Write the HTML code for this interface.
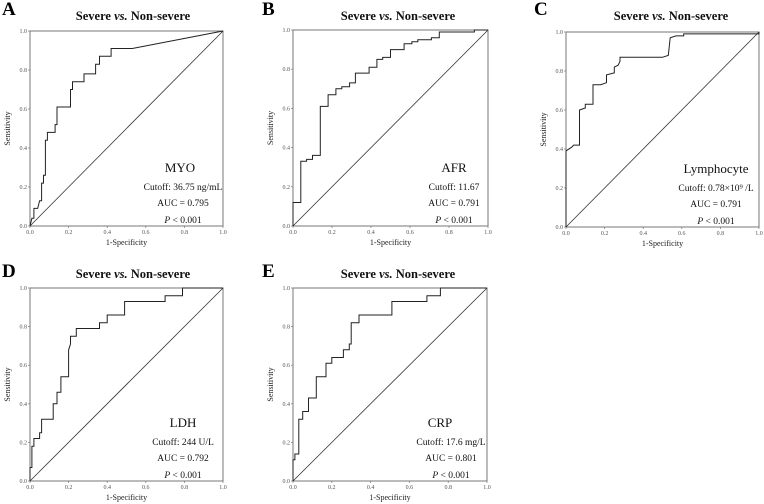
<!DOCTYPE html>
<html><head><meta charset="utf-8"><style>
body{margin:0;background:#fff;}
svg{display:block;font-family:"Liberation Serif",serif;}
</style></head><body>
<svg id="chart" width="764" height="504"></svg>
<script>
const panelLetters=["A","B","C","D","E"];
const markers=["MYO","AFR","Lymphocyte","LDH","CRP"];
const cutoffs=["Cutoff: 36.75 ng/mL","Cutoff: 11.67","Cutoff: 0.78×10⁹ /L","Cutoff: 244 U/L","Cutoff: 17.6 mg/L"];
const aucs=["AUC = 0.795","AUC = 0.791","AUC = 0.791","AUC = 0.792","AUC = 0.801"];
const tickLabels=["0.0","0.2","0.4","0.6","0.8","1.0"];
const tickValues=[0,0.2,0.4,0.6,0.8,1.0];
const rocA_x=[0,0.01,0.02,0.02,0.04,0.05,0.06,0.06,0.07,0.07,0.08,0.08,0.09,0.09,0.13,0.13,0.14,0.14,0.21,0.21,0.22,0.22,0.28,0.28,0.34,0.34,0.36,0.36,0.42,0.42,0.53,1];
const rocA_y=[0,0.04,0.04,0.09,0.09,0.13,0.13,0.22,0.22,0.26,0.26,0.44,0.44,0.48,0.48,0.52,0.52,0.61,0.61,0.70,0.70,0.74,0.74,0.78,0.78,0.83,0.83,0.87,0.87,0.91,0.91,1];
const rocB_x=[0,0,0.04,0.04,0.07,0.07,0.1,0.1,0.14,0.14,0.18,0.18,0.22,0.22,0.25,0.25,0.29,0.29,0.32,0.32,0.39,0.39,0.43,0.43,0.46,0.46,0.5,0.5,0.57,0.57,0.61,0.61,0.64,0.64,0.71,0.71,0.75,0.75,0.93,0.93,1];
const rocB_y=[0,0.12,0.12,0.33,0.33,0.34,0.34,0.36,0.36,0.61,0.61,0.67,0.67,0.70,0.70,0.71,0.71,0.73,0.73,0.78,0.78,0.81,0.81,0.85,0.85,0.86,0.86,0.90,0.90,0.93,0.93,0.94,0.94,0.95,0.95,0.96,0.96,0.99,0.99,1,1];
const rocC_x=[0,0,0.03,0.04,0.07,0.07,0.1,0.1,0.14,0.14,0.18,0.21,0.21,0.25,0.25,0.27,0.28,0.28,0.5,0.53,0.54,0.57,0.61,0.61,1,1];
const rocC_y=[0,0.39,0.41,0.42,0.42,0.60,0.61,0.63,0.63,0.73,0.73,0.74,0.78,0.79,0.82,0.83,0.85,0.87,0.87,0.88,0.97,0.98,0.98,0.99,0.99,1];
const rocD_x=[0,0,0.01,0.01,0.02,0.02,0.05,0.05,0.06,0.06,0.12,0.12,0.14,0.14,0.16,0.16,0.2,0.2,0.21,0.21,0.24,0.24,0.36,0.36,0.4,0.4,0.49,0.49,0.7,0.7,0.79,0.79,1];
const rocD_y=[0,0.07,0.07,0.18,0.18,0.22,0.22,0.25,0.25,0.32,0.32,0.40,0.40,0.46,0.46,0.54,0.54,0.68,0.71,0.75,0.75,0.79,0.79,0.82,0.82,0.86,0.86,0.93,0.93,0.96,0.96,1,1];
const rocE_x=[0,0,0.01,0.01,0.03,0.03,0.05,0.05,0.08,0.08,0.12,0.12,0.17,0.17,0.2,0.2,0.26,0.26,0.29,0.29,0.3,0.3,0.34,0.34,0.51,0.51,0.69,0.69,0.76,0.76,1];
const rocE_y=[0,0.11,0.11,0.14,0.14,0.32,0.32,0.36,0.36,0.43,0.43,0.54,0.54,0.61,0.61,0.64,0.64,0.68,0.68,0.71,0.71,0.82,0.82,0.86,0.86,0.93,0.93,0.96,0.96,1,1];
const seriesX=[rocA_x,rocB_x,rocC_x,rocD_x,rocE_x];
const seriesY=[rocA_y,rocB_y,rocC_y,rocD_y,rocE_y];

// layout
const boxes=[
 {l:30,r:223,t:31,b:226,lx:2,ly:15,tx:133,ty:20,mx:180,cx:183},
 {l:293,r:488,t:30,b:226,lx:262,ly:15,tx:398,ty:20,mx:454,cx:454},
 {l:566,r:759,t:32,b:227,lx:534,ly:15,tx:671,ty:20,mx:716,cx:716},
 {l:30,r:223,t:288,b:481,lx:2,ly:277,tx:133,ty:278,mx:183,cx:183},
 {l:293,r:487,t:288,b:481,lx:262,ly:277,tx:398,ty:278,mx:440,cx:451}
];
const NS="http://www.w3.org/2000/svg";
const svg=document.getElementById('chart');
function mk(tag,attrs,parent,text){const e=document.createElementNS(NS,tag);for(const k in attrs)e.setAttribute(k,attrs[k]);if(text!==undefined)e.textContent=text;(parent||svg).appendChild(e);return e;}

boxes.forEach((B,i)=>{
 const g=mk('g',{});
 
 
 const sx=v=>B.l+v*(B.r-B.l), sy=v=>B.b-v*(B.b-B.t);
 const L=mk('text',{x:B.lx,y:B.ly,'font-size':19,'font-weight':'bold',fill:'#000'},g,panelLetters[i]);
 
 
 const T=mk('text',{x:B.tx,y:B.ty,'font-size':12.5,'font-weight':'bold','text-anchor':'middle',fill:'#111'},g);
 
 
 mk('tspan',{},T,'Severe ');mk('tspan',{'font-style':'italic'},T,'vs.');mk('tspan',{},T,' Non-severe');
 const F=mk('rect',{x:B.l,y:B.t,width:B.r-B.l,height:B.b-B.t,fill:'none',stroke:'#777','stroke-width':1},g);
 
 
 tickValues.forEach((v,k)=>{
  mk('line',{x1:sx(v),x2:sx(v),y1:B.b,y2:B.b+2,stroke:'#777','stroke-width':0.7},g);
  mk('line',{x1:B.l-2,x2:B.l,y1:sy(v),y2:sy(v),stroke:'#777','stroke-width':0.7},g);
  const xt=mk('text',{x:sx(v),y:B.b+8,'font-size':6,'text-anchor':'middle',fill:'#555'},g,tickLabels[k]);
  
  
  const yt=mk('text',{x:B.l-3,y:sy(v)+2,'font-size':6,'text-anchor':'end',fill:'#555'},g,tickLabels[k]);
  
  
 });
 const xa=mk('text',{x:(B.l+B.r)/2,y:B.b+19,'font-size':8,'text-anchor':'middle',fill:'#222'},g,'1-Specificity');
 
 
 const cy=(B.t+B.b)/2;
 const ya=mk('text',{x:B.l-20,y:cy,'font-size':8,'text-anchor':'middle',fill:'#222',transform:`rotate(-90 ${B.l-20} ${cy})`},g,'Sensitivity');
 
 
 const d=mk('line',{x1:sx(0),y1:sy(0),x2:sx(1),y2:sy(1),stroke:'#333','stroke-width':0.8},g);
 
 
 const pts=seriesX[i].map((x,k)=>sx(x).toFixed(1)+','+sy(seriesY[i][k]).toFixed(1)).join(' ');
 const c=mk('polyline',{points:pts,fill:'none',stroke:'#222','stroke-width':1},g);
 
 
 const m=mk('text',{x:B.mx,y:B.b-54,'font-size':13,'text-anchor':'middle',fill:'#111'},g,markers[i]);
 
 
 const co=mk('text',{x:B.cx,y:B.b-36,'font-size':9.5,'text-anchor':'middle',fill:'#111'},g,cutoffs[i]);
 
 
 const au=mk('text',{x:B.cx,y:B.b-20,'font-size':9.5,'text-anchor':'middle',fill:'#111'},g,aucs[i]);
 
 
 const p=mk('text',{x:B.cx,y:B.b-3,'font-size':9.5,'text-anchor':'middle',fill:'#111'},g);
 
 
 mk('tspan',{'font-style':'italic'},p,'P');mk('tspan',{},p,' < 0.001');
});
</script>
</body></html>
